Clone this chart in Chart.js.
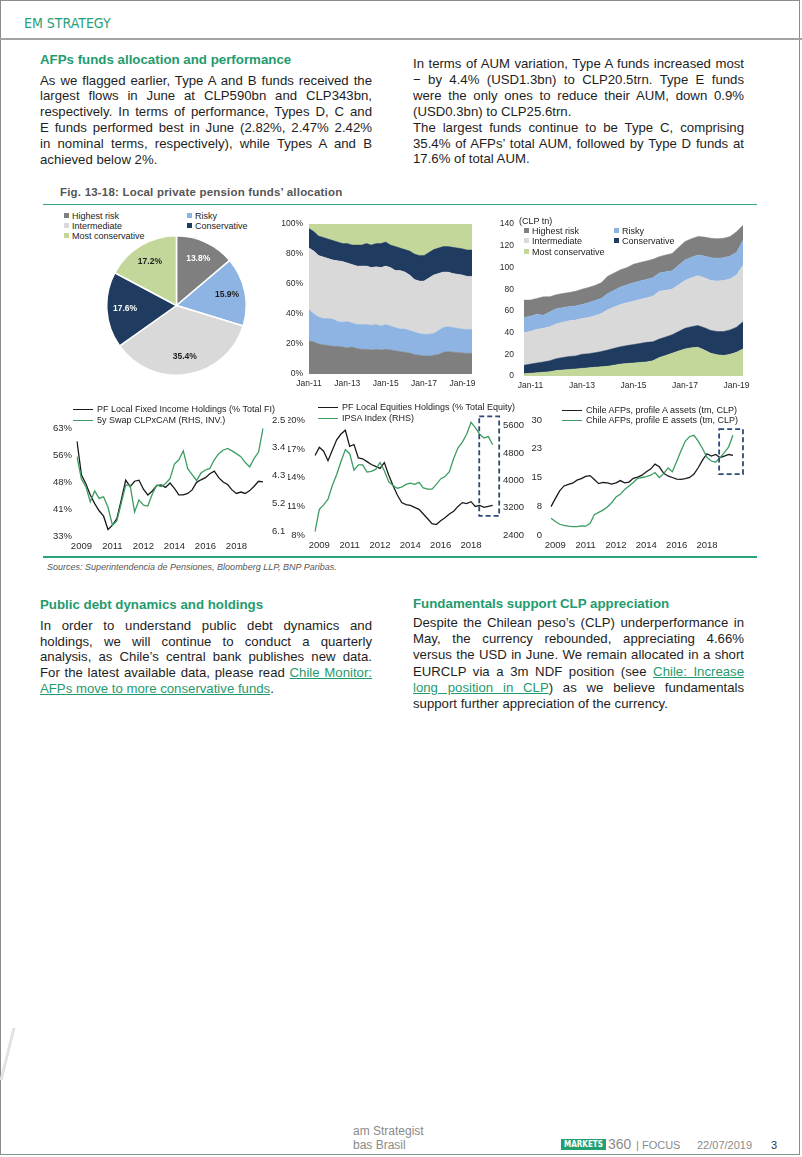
<!DOCTYPE html>
<html>
<head>
<meta charset="utf-8">
<script src="https://cdn.jsdelivr.net/npm/chart.js@4.4.1/dist/chart.umd.min.js"></script>
<style>
  html, body { margin: 0; padding: 0; background: #fff; }
  body { width: 802px; height: 1157px; position: relative; overflow: hidden;
         font-family: "Liberation Sans", Arial, sans-serif; color: #1e1e1e; }
  .abs { position: absolute; }
  .frame { left: 0; top: 0; width: 798px; height: 1153px; border: 1.5px solid #8c8c8c; }
  .hdr { left: 24px; top: 14px; font-family: "Liberation Sans Narrow", "DejaVu Sans Condensed", Arial, sans-serif;
         font-size: 14px; line-height: 18px; color: #27a077; }
  .hline { left: 0; top: 38px; width: 802px; height: 2px; background: #a3a3a3; }
  .gline { left: 43px; width: 714px; height: 1.5px; background: #2ba57c; }
  .h { font-weight: bold; color: #1f9b6e; font-size: 13.3px; line-height: 16px; white-space: nowrap; }
  .txt { font-size: 13.2px; line-height: 15.9px; color: #1e1e1e; }
  .txt div { white-space: nowrap; }
  .j { text-align: justify; text-align-last: justify; }
  .lnk { color: #1f9b6e; text-decoration: underline; }
  .cap { left: 60px; top: 185px; font-size: 11.5px; line-height: 14px; font-weight: bold; color: #555; letter-spacing: 0.2px; }
  .src { left: 47px; top: 561px; font-size: 9px; line-height: 12px; font-style: italic; color: #555; }
  .lg { font-size: 9px; line-height: 12px; white-space: nowrap; color: #222; }
  .lg i { display: inline-block; width: 20px; height: 1.4px; vertical-align: middle; margin-right: 4px; }
  .key { font-size: 9px; line-height: 11px; white-space: nowrap; color: #222; }
  .key b { display: inline-block; width: 5px; height: 5px; margin-right: 3px; vertical-align: 1px; }
  .foot { color: #8a8a8a; font-size: 12px; line-height: 14px; white-space: nowrap; }
  .logo { left: 561px; top: 1139px; width: 45px; height: 11px; overflow: hidden; background: #23a06f; color: #fff;
          font: bold 8px/11px "DejaVu Sans Condensed", "Liberation Sans Narrow", Arial, sans-serif; text-align: center; }
  canvas { position: absolute; }
</style>
</head>
<body>
<div class="abs frame"></div>
<div class="abs hdr">EM STRATEGY</div>
<div class="abs hline"></div>

<!-- opening paragraphs -->
<div class="abs h" style="left:40px;top:52px;">AFPs funds allocation and performance</div>
<div class="abs txt" style="left:40px;top:72.5px;width:332px;">
  <div class="j">As we flagged earlier, Type A and B funds received the</div>
  <div class="j">largest flows in June at CLP590bn and CLP343bn,</div>
  <div class="j">respectively. In terms of performance, Types D, C and</div>
  <div class="j">E funds performed best in June (2.82%, 2.47% 2.42%</div>
  <div class="j">in nominal terms, respectively), while Types A and B</div>
  <div>achieved below 2%.</div>
</div>
<div class="abs txt" style="left:413px;top:56px;width:331px;">
  <div class="j">In terms of AUM variation, Type A funds increased most</div>
  <div class="j">− by 4.4% (USD1.3bn) to CLP20.5trn. Type E funds</div>
  <div class="j">were the only ones to reduce their AUM, down 0.9%</div>
  <div>(USD0.3bn) to CLP25.6trn.</div>
  <div class="j">The largest funds continue to be Type C, comprising</div>
  <div class="j">35.4% of AFPs’ total AUM, followed by Type D funds at</div>
  <div>17.6% of total AUM.</div>
</div>

<div class="abs cap">Fig. 13-18: Local private pension funds’ allocation</div>
<div class="abs gline" style="top:203.5px;"></div>

<!-- pie legend -->
<div class="abs key" style="left:64px;top:211px;"><b style="background:#7f7f7f"></b>Highest risk</div>
<div class="abs key" style="left:187px;top:211px;"><b style="background:#8db4e2"></b>Risky</div>
<div class="abs key" style="left:64px;top:221px;"><b style="background:#d9d9d9"></b>Intermediate</div>
<div class="abs key" style="left:187px;top:221px;"><b style="background:#1f3b5f"></b>Conservative</div>
<div class="abs key" style="left:64px;top:231px;"><b style="background:#c4d79b"></b>Most conservative</div>
<canvas id="pie" width="141" height="141" style="left:105.5px;top:235px;"></canvas>

<canvas id="pct" width="215" height="181" style="left:270px;top:213px;"></canvas>

<canvas id="aum" width="260" height="187" style="left:495px;top:209px;"></canvas>
<div class="abs key" style="left:519px;top:216px;">(CLP tn)</div>
<div class="abs key" style="left:524px;top:225.5px;"><b style="background:#7f7f7f"></b>Highest risk</div>
<div class="abs key" style="left:614px;top:225.5px;"><b style="background:#8db4e2"></b>Risky</div>
<div class="abs key" style="left:524px;top:236px;"><b style="background:#d9d9d9"></b>Intermediate</div>
<div class="abs key" style="left:614px;top:236px;"><b style="background:#1f3b5f"></b>Conservative</div>
<div class="abs key" style="left:524px;top:246.5px;"><b style="background:#c4d79b"></b>Most conservative</div>

<!-- line charts -->
<canvas id="fi" width="251" height="151" style="left:40px;top:405px;"></canvas>
<div class="abs lg" style="left:73px;top:403px;"><i style="background:#1a1a1a"></i>PF Local Fixed Income Holdings (% Total FI)</div>
<div class="abs lg" style="left:73px;top:414px;"><i style="background:#3c9c62"></i>5y Swap CLPxCAM (RHS, INV.)</div>

<canvas id="eq" width="239" height="150" style="left:288px;top:405px;"></canvas>
<div class="abs lg" style="left:318px;top:401px;"><i style="background:#1a1a1a"></i>PF Local Equities Holdings (% Total Equity)</div>
<div class="abs lg" style="left:318px;top:412px;"><i style="background:#3c9c62"></i>IPSA Index (RHS)</div>

<canvas id="afp" width="231" height="150" style="left:529px;top:405px;"></canvas>
<div class="abs lg" style="left:562px;top:404px;"><i style="background:#1a1a1a"></i>Chile AFPs, profile A assets (tm, CLP)</div>
<div class="abs lg" style="left:562px;top:414px;"><i style="background:#3c9c62"></i>Chile AFPs, profile E assets (tm, CLP)</div>

<div class="abs gline" style="top:556px;"></div>
<div class="abs src">Sources: Superintendencia de Pensiones, Bloomberg LLP, BNP Paribas.</div>

<!-- lower paragraphs -->
<div class="abs h" style="left:40px;top:597px;">Public debt dynamics and holdings</div>
<div class="abs txt" style="left:40px;top:618px;width:332px;line-height:15.7px;">
  <div class="j">In order to understand public debt dynamics and</div>
  <div class="j">holdings, we will continue to conduct a quarterly</div>
  <div class="j">analysis, as Chile’s central bank publishes new data.</div>
  <div class="j">For the latest available data, please read <span class="lnk">Chile Monitor:</span></div>
  <div><span class="lnk">AFPs move to more conservative funds</span>.</div>
</div>
<div class="abs h" style="left:413px;top:596px;">Fundamentals support CLP appreciation</div>
<div class="abs txt" style="left:413px;top:615px;width:331px;line-height:16.2px;">
  <div class="j">Despite the Chilean peso’s (CLP) underperformance in</div>
  <div class="j">May, the currency rebounded, appreciating 4.66%</div>
  <div class="j">versus the USD in June. We remain allocated in a short</div>
  <div class="j">EURCLP via a 3m NDF position (see <span class="lnk">Chile: Increase</span></div>
  <div class="j"><span class="lnk">long position in CLP</span>) as we believe fundamentals</div>
  <div>support further appreciation of the currency.</div>
</div>

<!-- page edge mark -->
<div class="abs" style="left:6px;top:1028px;width:3px;height:52px;background:#e2e2e2;transform:skewX(-14deg);"></div>

<!-- footer -->
<div class="abs foot" style="left:353px;top:1124px;">am Strategist</div>
<div class="abs foot" style="left:353px;top:1138px;">bas Brasil</div>
<div class="abs logo">MARKETS</div>
<div class="abs foot" style="left:608px;top:1137px;font-size:14px;line-height:15px;">360</div>
<div class="abs foot" style="left:636px;top:1138px;font-size:11px;">| FOCUS</div>
<div class="abs foot" style="left:697px;top:1138px;font-size:11px;">22/07/2019</div>
<div class="abs foot" style="left:771px;top:1138px;font-size:11px;color:#333;">3</div>

<script>
// ── Pie: share of total AUM by fund type ─────────────────────────────────────
const fundTypes  = ['Highest risk', 'Risky', 'Intermediate', 'Conservative', 'Most conservative'];
const pieShares  = [13.8, 15.9, 35.4, 17.6, 17.2];
const fundColors = ['#7f7f7f', '#8db4e2', '#d9d9d9', '#1f3b5f', '#c4d79b'];
const pieTextCol = ['#ffffff', '#1e1e1e', '#1e1e1e', '#ffffff', '#1e1e1e'];

// ── 100% stacked shares, quarterly Jan-11 .. Jul-19 ──────────────────────────
const pctQuarters = [
  'Jan-11','Apr-11','Jul-11','Oct-11','Jan-12','Apr-12','Jul-12','Oct-12',
  'Jan-13','Apr-13','Jul-13','Oct-13','Jan-14','Apr-14','Jul-14','Oct-14',
  'Jan-15','Apr-15','Jul-15','Oct-15','Jan-16','Apr-16','Jul-16','Oct-16',
  'Jan-17','Apr-17','Jul-17','Oct-17','Jan-18','Apr-18','Jul-18','Oct-18',
  'Jan-19','Apr-19','Jul-19'];
const pctHighest      = [22,21.5,20,19.5, 19,18.5,18.5,18, 17.5,18,17,16.5, 16.5,16,16.5,16, 16.5,16,15.5,15, 14.5,14,13,12.5, 12,12,12.5,13, 14.5,15,14.5,14.5, 14,13.8,13.8];
const pctRisky        = [21,18.5,18,17.5, 18,18,16.5,16.5, 17.5,16,16,16.5, 16.5,16.5,16.5,16, 16.5,16,15.5,15, 15.5,15,15,14.5, 14.5,14.5,14.5,16, 16.5,16.5,16.5,16, 16,15.9,15.9];
const pctIntermediate = [41,42,41,41, 40,39.5,40.5,40.5, 39,39,39,39, 39,38.5,38.5,39, 39,39,38,39, 38,37,35,35, 35.5,37.5,39,38, 37,36.5,36,36, 36,35.4,35.4];
const pctConservative = [13,13,13,13, 13,13,12.5,12, 13,13,14,14, 15,15,15.5,16, 16,15,16,15, 15,16,17,17, 17,17,17,17, 17,17,17.5,17.5, 17.5,17.6,17.6];
const pctMostCons     = [3,5,8,9, 10,11,12,13, 13,14,14,14, 13,14,13,13, 12,14,15,16, 17,18,20,21, 21,19,17,16, 15,15,15.5,16, 16.5,17.3,17.3];

// ── AUM in CLP tn, quarterly Oct-10 .. Apr-19 ────────────────────────────────
const aumQuarters = [
  'Oct-10','Jan-11','Apr-11','Jul-11','Oct-11','Jan-12','Apr-12','Jul-12','Oct-12',
  'Jan-13','Apr-13','Jul-13','Oct-13','Jan-14','Apr-14','Jul-14','Oct-14',
  'Jan-15','Apr-15','Jul-15','Oct-15','Jan-16','Apr-16','Jul-16','Oct-16',
  'Jan-17','Apr-17','Jul-17','Oct-17','Jan-18','Apr-18','Jul-18','Oct-18',
  'Jan-19','Apr-19'];
const aumMostCons     = [2, 2.5,3,3.5,4, 5,5.5,6,6.5, 7,7.5,8,8.5, 9,10,11,11.5, 12,12.5,13,14, 17,19,21,23, 25,26,26.5,24, 21,19.5,19,20, 22,25];
const aumConservative = [8, 8.5,9,9.5,10, 11,11.5,12,12, 13,13,13.5,14, 15,15.5,16,16.5, 17,17.5,18,17.5, 17,17,17,18, 19,19.5,20,20.5, 21,21.5,22,22.5, 23,25];
const aumIntermediate = [30, 30,31,31,31.5, 32,32.5,33,33, 33,33.5,34,35, 37,38,39,39.5, 40,40.5,41,42, 44,43,42,43, 44,45,46,46, 46,46.5,47,47, 48,52];
const aumRisky        = [14, 14,14,12,13.5, 14,13.5,13,13, 13,13.5,14,14, 15,15.5,16,16.5, 17,17,17,17, 17,17,17,18, 19,19,19,20, 21,21,21,21, 21,23];
const aumHighest      = [16, 15,14.5,17,14, 13,13,13,13.5, 14,14,14,14.5, 16,16,16,16, 17,17,17,17, 15,15.5,16,16.5, 17,17,17,17.5, 18,18,18,18, 19,14];

// ── Line panels, quarterly Jan-09 .. Jul-19 ──────────────────────────────────
const lineQuarters = [
  'Jan-09','Apr-09','Jul-09','Oct-09','Jan-10','Apr-10','Jul-10','Oct-10',
  'Jan-11','Apr-11','Jul-11','Oct-11','Jan-12','Apr-12','Jul-12','Oct-12',
  'Jan-13','Apr-13','Jul-13','Oct-13','Jan-14','Apr-14','Jul-14','Oct-14',
  'Jan-15','Apr-15','Jul-15','Oct-15','Jan-16','Apr-16','Jul-16','Oct-16',
  'Jan-17','Apr-17','Jul-17','Oct-17','Jan-18','Apr-18','Jul-18','Oct-18',
  'Jan-19','Apr-19','Jul-19'];
const fiHoldings = [59.3,50,47.5,44.4,42,40,38.5,34.8,36,37.8,43,48.5,46.7,48.2,48.5,46,44.4,45.5,47,47.2,46.5,47.7,46.2,44.4,44.4,44.8,45.8,47.9,48.6,49.2,50.3,51,49.2,48,47.3,45.8,44.8,45.2,44.8,45.6,46.8,48.2,48];
const swap5y     = [3.69,4.41,4.66,5.15,4.80,5.04,4.99,5.33,5.91,5.77,5.19,4.61,4.61,5.48,5.09,5.26,5.29,4.90,4.61,4.66,4.56,4.40,3.93,3.79,3.50,4.08,4.27,4.46,4.22,4.12,4.07,3.79,3.59,3.48,3.42,3.50,3.59,3.69,3.88,4.02,3.74,3.54,2.77];
const eqHoldings = [16.35,17.2,16.8,15.8,16.9,18.0,18.6,19.0,17.3,17.5,16.1,16.0,15.7,15.4,15.2,15.0,15.6,14.3,13.2,12.2,11.4,11.2,11.1,10.9,10.7,10.2,9.7,9.2,9.1,9.5,9.8,10.2,10.5,11.0,11.4,11.3,11.5,11.0,11.1,10.9,11.0,11.1,null];
const ipsa       = [2500,3150,3280,3450,3850,4170,4550,4900,4780,4300,4450,4450,4240,4260,4320,4520,4280,3960,3850,3770,3800,3880,3920,3880,3940,3780,3740,3740,3880,4040,4110,4250,4640,4950,5120,5350,5700,5540,5350,5240,5280,5040,null];
const afpA       = [7.4,9.5,11.5,12.8,13.2,13.5,14.3,14.7,15.3,15.5,14.5,13.4,13.7,13.6,13.3,13.6,14.2,13.6,13.8,14.8,15.1,15.6,16.5,17.2,18.5,17.8,16.1,15.4,15.0,14.6,14.5,14.7,15.0,15.9,17.6,19.6,21.2,20.6,21.0,20.2,20.6,21.0,20.8];
const afpE       = [4.35,3.5,2.8,2.5,2.3,2.2,2.2,2.4,2.3,3.0,5.3,5.9,6.5,7.3,8.4,9.9,10.6,11.9,12.8,13.7,14.8,15.0,15.2,15.6,16.3,15.0,16.0,17.5,16.5,19.2,22.0,24.5,25.7,26.0,24.4,22.5,20.2,19.3,19.0,20.2,21.5,23.0,26.1];

// axis ticks
const fiTicks   = [33, 40.5, 48, 55.5, 63];
const swapTicks = [2.5, 3.4, 4.3, 5.2, 6.1];
const eqTicks   = [8, 11, 14, 17, 20];
const ipsaTicks = [2400, 3200, 4000, 4800, 5600];
const afpTicks  = [0, 7.5, 15, 22.5, 30];

// highlighted recent window: [from index, to index, top, bottom]
const eqWindow  = [37.9, 42.5, 20.45, 10.0];
const afpWindow = [38.8, 44.3, 27.6, 15.9];

// ── Shared settings ──────────────────────────────────────────────────────────
Chart.defaults.font.family = '"Liberation Sans", Arial, sans-serif';
Chart.defaults.color = '#2a2a2a';
Chart.defaults.animation = false;
Chart.defaults.responsive = false;
Chart.defaults.devicePixelRatio = 1;
Chart.defaults.plugins.legend.display = false;
Chart.defaults.plugins.tooltip.enabled = false;

const BLACK = '#1a1a1a';
const GREEN = '#3c9c62';

const fitW = w => s => { s.width = w; };
const fitH = h => s => { s.height = h; };
const setTicks = vals => s => { s.ticks = vals.map(v => ({ value: v })); };
const noGrid = { display: false, drawTicks: false };

const pieValueLabels = {
  id: 'pieValueLabels',
  afterDatasetsDraw(chart) {
    const { ctx } = chart;
    ctx.save();
    ctx.font = 'bold 8.5px "Liberation Sans", Arial';
    ctx.textAlign = 'center';
    ctx.textBaseline = 'middle';
    chart.getDatasetMeta(0).data.forEach((arc, i) => {
      const p = arc.getProps(['x', 'y', 'startAngle', 'endAngle', 'outerRadius']);
      const a = (p.startAngle + p.endAngle) / 2;
      const r = p.outerRadius * 0.74;
      ctx.fillStyle = pieTextCol[i];
      ctx.fillText(pieShares[i].toFixed(1) + '%', p.x + Math.cos(a) * r, p.y + Math.sin(a) * r);
    });
    ctx.restore();
  },
};

const dashWindow = {
  id: 'dashWindow',
  afterDatasetsDraw(chart, args, opts) {
    if (!opts.box) return;
    const { ctx, scales } = chart;
    const ys = scales[opts.axis];
    const [x0, x1, y0, y1] = opts.box;
    const L = scales.x.getPixelForValue(x0), R = scales.x.getPixelForValue(x1);
    const T = ys.getPixelForValue(y0), B = ys.getPixelForValue(y1);
    ctx.save();
    ctx.strokeStyle = '#2c4a78';
    ctx.lineWidth = 1.8;
    ctx.setLineDash([5, 3]);
    ctx.strokeRect(L, T, R - L, B - T);
    ctx.restore();
  },
};

// ── Pie ──────────────────────────────────────────────────────────────────────
new Chart(document.getElementById('pie'), {
  type: 'pie',
  data: {
    labels: fundTypes,
    datasets: [{ data: pieShares, backgroundColor: fundColors, borderColor: '#fff', borderWidth: 1.5 }],
  },
  options: { layout: { padding: 0 } },
  plugins: [pieValueLabels],
});

// ── Stacked areas ────────────────────────────────────────────────────────────
function area(label, data, color, first) {
  return {
    label, data,
    backgroundColor: color, borderColor: color, borderWidth: 0.5,
    pointRadius: 0, tension: 0, fill: first ? 'origin' : '-1',
  };
}

function areaX(every, offset) {
  return {
    grid: noGrid, border: { display: false },
    afterFit: fitH(20),
    ticks: {
      autoSkip: false, maxRotation: 0, padding: 5, font: { size: 8.5 },
      callback(v, i) { return i % every === offset ? this.getLabelForValue(v) : null; },
    },
  };
}

new Chart(document.getElementById('pct'), {
  type: 'line',
  data: {
    labels: pctQuarters,
    datasets: [
      area('Highest risk', pctHighest, fundColors[0], true),
      area('Risky', pctRisky, fundColors[1]),
      area('Intermediate', pctIntermediate, fundColors[2]),
      area('Conservative', pctConservative, fundColors[3]),
      area('Most conservative', pctMostCons, fundColors[4]),
    ],
  },
  options: {
    layout: { padding: { top: 10, right: 13, bottom: 0, left: 0 } },
    scales: {
      x: areaX(8, 0),
      y: {
        stacked: true, min: 0, max: 100,
        grid: noGrid, border: { display: false },
        afterFit: fitW(39),
        ticks: { stepSize: 20, padding: 6, font: { size: 8.5 }, callback: v => v + '%' },
      },
    },
  },
});

new Chart(document.getElementById('aum'), {
  type: 'line',
  data: {
    labels: aumQuarters,
    datasets: [
      area('Most conservative', aumMostCons, fundColors[4], true),
      area('Conservative', aumConservative, fundColors[3]),
      area('Intermediate', aumIntermediate, fundColors[2]),
      area('Risky', aumRisky, fundColors[1]),
      area('Highest risk', aumHighest, fundColors[0]),
    ],
  },
  options: {
    layout: { padding: { top: 10, right: 12, bottom: 0, left: 0 } },
    scales: {
      x: areaX(8, 1),
      y: {
        stacked: true, min: 0, max: 140,
        grid: noGrid, border: { display: false },
        afterFit: fitW(29),
        ticks: { stepSize: 20, padding: 10, font: { size: 8.5 } },
      },
    },
  },
});

// ── Dual-axis line panels ────────────────────────────────────────────────────
function series(label, data, color, axis) {
  return {
    label, data, yAxisID: axis,
    borderColor: color, borderWidth: 1.3, pointRadius: 0, tension: 0, fill: false,
  };
}

const lineX = {
  grid: noGrid, border: { display: false },
  afterFit: fitH(20),
  ticks: {
    autoSkip: false, maxRotation: 0, padding: 5, font: { size: 9.5 },
    callback(v, i) { return i % 7 === 1 ? '20' + this.getLabelForValue(v).slice(4) : null; },
  },
};

function yAxis(pos, min, max, ticks, width, pad, fmt, extra) {
  return Object.assign({
    position: pos, min, max,
    grid: noGrid, border: { display: false },
    afterFit: fitW(width),
    afterBuildTicks: setTicks(ticks),
    ticks: { padding: pad, font: { size: 9.5 }, callback: fmt },
  }, extra || {});
}

new Chart(document.getElementById('fi'), {
  type: 'line',
  data: {
    labels: lineQuarters,
    datasets: [
      series('5y Swap CLPxCAM (RHS, INV.)', swap5y, GREEN, 'y1'),
      series('PF Local Fixed Income Holdings (% Total FI)', fiHoldings, BLACK, 'y'),
    ],
  },
  options: {
    layout: { padding: { top: 15, right: 0, bottom: 0, left: 0 } },
    scales: {
      x: lineX,
      y:  yAxis('left', 33, 65.2, fiTicks, 37, 5, v => v.toFixed(0) + '%'),
      y1: yAxis('right', 2.5, 6.26, swapTicks, 28, 9, v => v.toFixed(1), { reverse: true }),
    },
  },
});

new Chart(document.getElementById('eq'), {
  type: 'line',
  data: {
    labels: lineQuarters,
    datasets: [
      series('IPSA Index (RHS)', ipsa, GREEN, 'y1'),
      series('PF Local Equities Holdings (% Total Equity)', eqHoldings, BLACK, 'y'),
    ],
  },
  options: {
    layout: { padding: { top: 15, right: 0, bottom: 0, left: 0 } },
    scales: {
      x: lineX,
      y:  yAxis('left', 8, 20, eqTicks, 27, 10, v => v.toFixed(0) + '%'),
      y1: yAxis('right', 2400, 5745, ipsaTicks, 30, 6, v => v.toFixed(0)),
    },
    plugins: { dashWindow: { box: eqWindow, axis: 'y' } },
  },
  plugins: [dashWindow],
});

new Chart(document.getElementById('afp'), {
  type: 'line',
  data: {
    labels: lineQuarters,
    datasets: [
      series('Chile AFPs, profile E assets (tm, CLP)', afpE, GREEN, 'y'),
      series('Chile AFPs, profile A assets (tm, CLP)', afpA, BLACK, 'y'),
    ],
  },
  options: {
    layout: { padding: { top: 15, right: 27, bottom: 0, left: 0 } },
    scales: {
      x: lineX,
      y: yAxis('left', 0, 30, afpTicks, 22, 9, v => v.toFixed(0)),
    },
    plugins: { dashWindow: { box: afpWindow, axis: 'y' } },
  },
  plugins: [dashWindow],
});
</script>
</body>
</html>
